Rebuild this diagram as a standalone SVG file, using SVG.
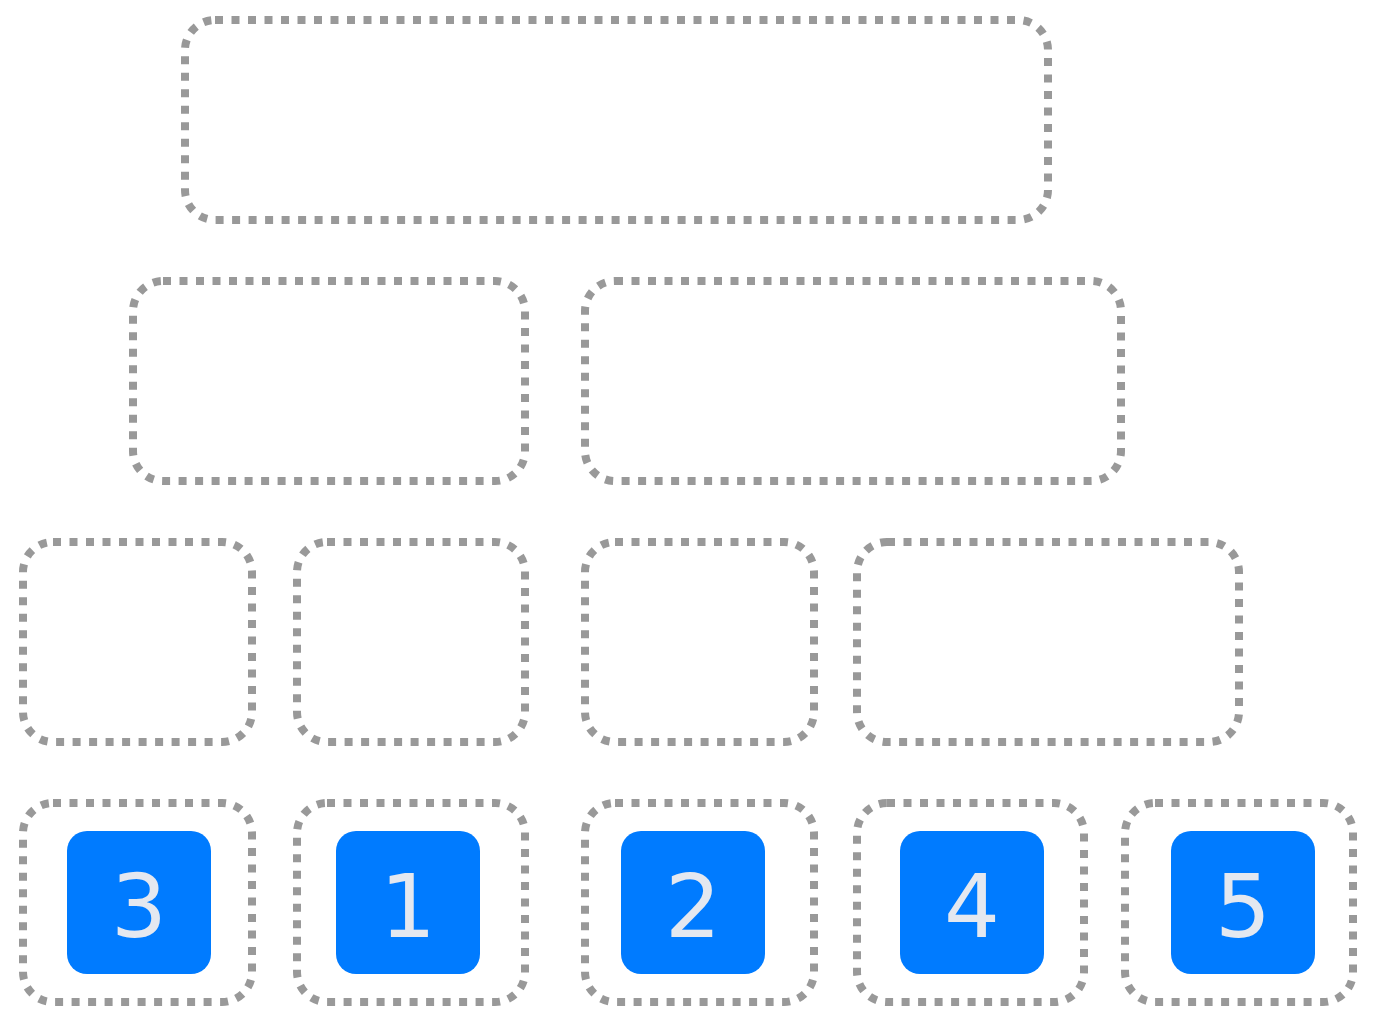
<svg xmlns="http://www.w3.org/2000/svg" width="1380" height="1028" viewBox="0 0 1380 1028">
<style>
.c{fill:none;stroke:#999999;stroke-width:8;stroke-dasharray:8 8.5}
.b{fill:#007bff}
.t{font-family:"DejaVu Sans",Verdana,sans-serif;font-size:88px;fill:#e4e8f0;text-anchor:middle}
</style>
<rect width="1380" height="1028" fill="#ffffff"/>
<g id="containers">
<rect id="r1" class="c" x="185" y="20" width="863" height="200" rx="30"/>
<rect id="r2a" class="c" x="133" y="281" width="392" height="200" rx="30"/>
<rect id="r2b" class="c" x="585" y="281" width="536" height="200" rx="30"/>
<rect id="r3a" class="c" x="23" y="542" width="229" height="200" rx="30"/>
<rect id="r3b" class="c" x="297" y="542" width="228" height="200" rx="30"/>
<rect id="r3c" class="c" x="585" y="542" width="229" height="200" rx="30"/>
<rect id="r3d" class="c" x="857" y="542" width="382" height="200" rx="30"/>
<rect id="r4a" class="c" x="23" y="803" width="229" height="199" rx="30"/>
<rect id="r4b" class="c" x="297" y="803" width="228" height="199" rx="30"/>
<rect id="r4c" class="c" x="585" y="803" width="229" height="199" rx="30"/>
<rect id="r4d" class="c" x="857" y="803" width="227" height="199" rx="30"/>
<rect id="r4e" class="c" x="1125" y="803" width="228" height="199" rx="30"/>
</g>
<g id="n3"><rect class="b" x="67" y="831" width="144" height="143" rx="20"/><text class="t" x="139" y="937">3</text></g>
<g id="n1"><rect class="b" x="336" y="831" width="144" height="143" rx="20"/><text class="t" x="408" y="937">1</text></g>
<g id="n2"><rect class="b" x="621" y="831" width="144" height="143" rx="20"/><text class="t" x="693" y="937">2</text></g>
<g id="n4"><rect class="b" x="900" y="831" width="144" height="143" rx="20"/><text class="t" x="972" y="937">4</text></g>
<g id="n5"><rect class="b" x="1171" y="831" width="144" height="143" rx="20"/><text class="t" x="1243" y="937">5</text></g>
<g id="connectors"></g>
</svg>
